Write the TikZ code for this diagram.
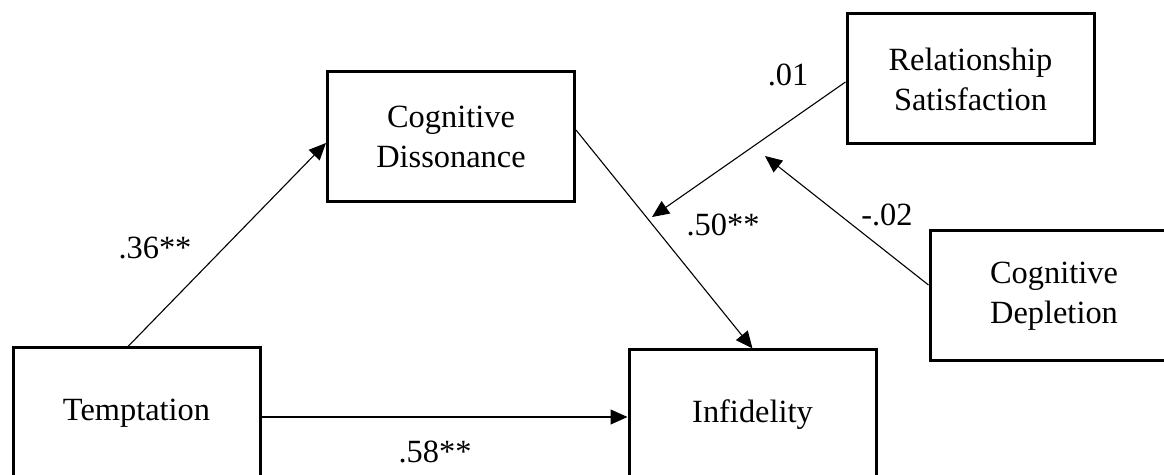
\documentclass[tikz,border=0pt]{standalone}
\usepackage{fontspec}
\setmainfont{Liberation Serif}
\usetikzlibrary{arrows.meta,calc}
\tikzset{
  box/.style={draw=black, line width=1.5pt, rectangle, minimum width=123.5pt, minimum height=65pt,
    align=center, inner sep=0pt, font=\fontsize{16.2}{20}\selectfont},
  link/.style={draw=black, line width=0.55pt, -{Triangle[length=8.5pt,width=7.5pt]}},
  lbl/.style={inner sep=0pt, font=\fontsize{16.2}{20}\selectfont}
}
\begin{document}
\begin{tikzpicture}[x=0.5pt,y=-0.5pt]
\clip (0,0) rectangle (1164,475);
\node[box] (CD) at (451,137) {Cognitive\\Dissonance};
\node[box] (T) at (136.5,413) {Temptation};
\node[box] (I) at (752.5,415) {Infidelity};
\node[box] (RS) at (970.5,79) {Relationship\\Satisfaction};
\node[box, minimum width=124pt] (CDp) at (1054,296) {Cognitive\\Depletion};
\coordinate (m1) at (652,217);
\coordinate (m2) at (765,156);
\draw[link] ([xshift=-4.25pt]T.north) -- ([yshift=-3pt]CD.west);
\draw[link] ([yshift=-2pt]T.east) -- ([yshift=-2pt]T.east -| I.west);
\draw[link] ([yshift=3.5pt]CD.east) -- (I.north);
\draw[link] ([yshift=-1.5pt]RS.west) -- (m1);
\draw[link] ([yshift=5.5pt]CDp.west) -- (m2);
\node[lbl] (l36) at (155,248) {.36**};
\node[lbl] (l58) at (435,452) {.58**};
\node[lbl] (l50) at (723,225) {.50**};
\node[lbl] (l01) at (788,75) {.01};
\node[lbl] (l02) at (887,215) {-.02};
\end{tikzpicture}
\end{document}
